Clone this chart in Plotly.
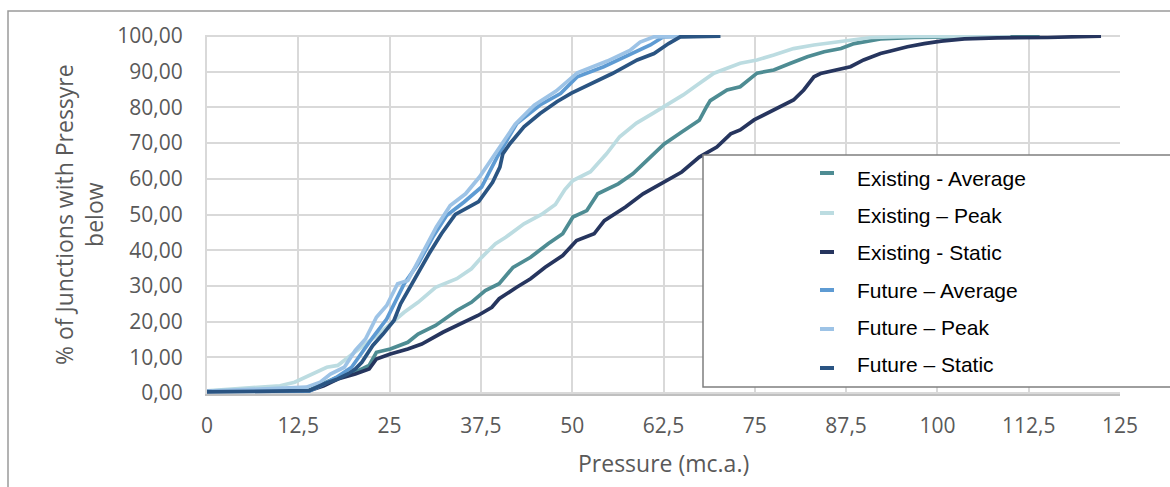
import plotly.graph_objects as go

# ---------------- data ----------------
x_tickvals = [0, 12.5, 25, 37.5, 50, 62.5, 75, 87.5, 100, 112.5, 125]
x_ticktext = ["0", "12,5", "25", "37,5", "50", "62,5", "75", "87,5", "100", "112,5", "125"]
y_tickvals = [0, 10, 20, 30, 40, 50, 60, 70, 80, 90, 100]
y_ticktext = ["0,00", "10,00", "20,00", "30,00", "40,00", "50,00",
              "60,00", "70,00", "80,00", "90,00", "100,00"]

series_names = ["Existing - Average", "Existing \u2013 Peak", "Existing - Static",
                "Future \u2013 Average", "Future \u2013 Peak", "Future \u2013 Static"]

existing_average_x = [0, 14, 15, 16.9, 18.4, 20.3, 22.2, 23.2, 25.1, 27.5, 28.9, 31.3, 34.2, 36.2,
                      38.1, 40, 41.9, 44.3, 46.7, 48.7, 50.1, 52, 53.5, 56.3, 58.3, 60.2, 62.6, 65,
                      67.4, 68.4, 68.9, 71.2, 73, 75.3, 77.6, 79.9, 82.2, 84.5, 86.8, 88.6, 92.2,
                      96.8, 101.4, 108, 114]
existing_average_y = [0.5, 0.8, 1.8, 3.5, 4.9, 5.8, 7.7, 11.4, 12.3, 14.2, 16.5, 18.9, 23.1, 25.4,
                      28.7, 30.6, 35.2, 38, 41.8, 44.6, 49.3, 51.1, 55.8, 58.6, 61.4, 65.1, 69.8, 73.1,
                      76.4, 80.2, 81.9, 84.9, 85.8, 89.6, 90.5, 92.4, 94.2, 95.6, 96.5, 97.9, 99.2,
                      99.6, 99.8, 99.9, 100]

existing_peak_x = [0, 5, 10, 12, 14, 16.4, 17.9, 19.3, 20.8, 23.2, 25.1, 27, 28.9, 31.3, 34.2, 36.2,
                   37.6, 39.5, 40.9, 43.4, 45.8, 47.7, 49, 50.1, 52.5, 54.7, 56.5, 58.8, 61.1, 63,
                   65.2, 67.1, 69.4, 73, 75.3, 77.6, 80.3, 83.1, 86.8, 90.9, 96.8, 104, 110]
existing_peak_y = [0.6, 1.2, 2, 3, 4.9, 7.2, 7.7, 10, 12.3, 16, 19.3, 22.6, 25.4, 29.6, 32, 34.8,
                   38, 41.8, 43.6, 47.4, 50, 52.8, 57, 59.5, 62, 67, 71.8, 75.6, 78.4, 80.7,
                   83.5, 86.3, 89.6, 92.4, 93.3, 94.7, 96.5, 97.5, 98.4, 99.6, 99.9, 100, 100]

existing_static_x = [0, 14, 16, 17.9, 20.3, 22.2, 23.2, 25.1, 27.5, 29.4, 32.3, 34.7, 37.1, 39, 40,
                     42.4, 44.3, 46.3, 48.7, 50.6, 53, 54.4, 57.3, 59.7, 62.1, 65, 67.4, 69.8, 71.7,
                     73, 74.9, 77.6, 80.3, 81.7, 83.1, 84, 86.3, 88.1, 89.9, 92.2, 93.6, 95.9, 98.2,
                     100.5, 103.7, 108.2, 115.1, 119.7, 122.4]
existing_static_y = [0.5, 0.65, 2, 3.9, 5.3, 6.7, 9.5, 10.9, 12.3, 13.7, 17, 19.3, 21.7, 24, 26.4,
                     29.6, 32, 35.2, 38.5, 42.7, 44.6, 48.3, 52.1, 55.8, 58.6, 61.9, 66.1, 68.9, 72.6,
                     73.7, 76.5, 79.3, 82.1, 84.9, 88.6, 89.5, 90.5, 91.4, 93.3, 95.1, 95.8, 97, 97.9,
                     98.6, 99.2, 99.5, 99.6, 99.8, 100]

future_average_x = [0, 14, 16, 17.9, 19.8, 21.2, 22.7, 24.6, 26.1, 27, 28.9, 30.9, 32.8, 35.2, 37.6,
                    39.7, 42.4, 45.6, 48.4, 50.7, 54.3, 57.9, 60.7, 62.5, 65, 69]
future_average_y = [0.4, 0.5, 2.5, 4.6, 7.2, 11.4, 15.6, 20.7, 26.8, 30.6, 36.2, 43.6, 49.7, 53.5,
                    57.7, 66, 75.5, 80.7, 83.9, 88.6, 91.4, 94.7, 97.5, 99.8, 100, 100]

future_peak_x = [0, 9.7, 13.6, 15.5, 16.9, 18.8, 20.3, 21.7, 23.2, 24.6, 26.1, 27.5, 29.4, 31.4, 33.3,
                 35.4, 37.3, 39.6, 42.2, 44.8, 47.8, 50.7, 54.8, 57.9, 59.3, 61.2, 64, 67]
future_peak_y = [0.5, 1.1, 1.6, 3, 5.3, 7.2, 11.9, 15.1, 21.2, 24.5, 30.6, 31.5, 39, 46.5, 52.5,
                 55.8, 60.5, 67.5, 75.3, 80.6, 84.6, 89.7, 93, 96, 98.3, 99.8, 100, 100]

future_static_x = [0, 14, 16, 17.9, 19.3, 20.3, 21.2, 22.7, 24.1, 25.6, 26.5, 27.5, 28.9, 30.4, 32.1,
                   34, 37.2, 39.1, 40.1, 40.5, 41.5, 43.4, 45.6, 47.9, 49.9, 52.7, 55.5, 58.9, 61.2,
                   63.2, 64.8, 70.3]
future_static_y = [0.3, 0.65, 2.5, 3.9, 5.3, 6.7, 8.6, 13.3, 16.5, 20.3, 25, 28.7, 33.4, 39, 44.6,
                   50, 53.6, 59, 63.3, 67, 69.9, 74.6, 78.3, 81.6, 84, 86.7, 89.5, 93.3, 95.1,
                   97.9, 99.8, 100]

series_x = [existing_average_x, existing_peak_x, existing_static_x,
            future_average_x, future_peak_x, future_static_x]
series_y = [existing_average_y, existing_peak_y, existing_static_y,
            future_average_y, future_peak_y, future_static_y]
series_colors = ["#4E8C93", "#BCDCE1", "#26355E", "#5E9BD3", "#9DC3E6", "#2A5482"]

# ---------------- layout helpers (pixel -> paper) ----------------
W, H = 1170, 487
PL, PR, PT, PB = 207, 1120, 35, 394  # plot area in pixels


def px2x(px):
    return (px - PL) / (PR - PL)


def py2y(py):
    return (PB - py) / (PB - PT)


fig = go.Figure()
for name, xs, ys, col in zip(series_names, series_x, series_y, series_colors):
    fig.add_trace(go.Scatter(x=xs, y=ys, name=name, mode="lines",
                             line=dict(color=col, width=3.7), showlegend=False))

axis_font = dict(family="Open Sans", size=21, color="#595959")

fig.update_layout(
    width=W, height=H,
    margin=dict(l=PL, r=W - PR, t=PT, b=H - PB, autoexpand=False),
    paper_bgcolor="white", plot_bgcolor="white",
    xaxis=dict(range=[0, 125], tickvals=x_tickvals, ticktext=x_ticktext,
               showgrid=True, gridcolor="#D9D9D9", gridwidth=2,
               showline=True, linecolor="#BFBFBF", linewidth=2,
               zeroline=False, ticks="", tickfont=axis_font, ticklabelstandoff=12),
    yaxis=dict(range=[-0.3, 100.3], tickvals=y_tickvals, ticktext=y_ticktext,
               showgrid=True, gridcolor="#D9D9D9", gridwidth=2,
               showline=True, linecolor="#D9D9D9", linewidth=2,
               zeroline=False, ticks="", tickfont=axis_font, ticklabelstandoff=18),
    font=dict(family="Open Sans"),
)

# axis titles
fig.add_annotation(text="% of Junctions with Pressyre<br>below", textangle=-90,
                   xref="paper", yref="paper", x=px2x(78.5), y=0.5,
                   xanchor="center", yanchor="middle", showarrow=False,
                   font=dict(family="Open Sans", size=23, color="#595959"))
fig.add_annotation(text="Pressure (mc.a.)", xref="paper", yref="paper",
                   x=px2x(663.5), y=py2y(463), xanchor="center", yanchor="middle",
                   showarrow=False, font=dict(family="Open Sans", size=23, color="#595959"))

# outer chart border
fig.add_shape(type="rect", xref="paper", yref="paper", layer="above",
              x0=px2x(8), x1=px2x(1185), y0=py2y(500), y1=py2y(11),
              line=dict(color="#9A9A9A", width=1.5), fillcolor="rgba(0,0,0,0)")

# legend box
fig.add_shape(type="rect", xref="paper", yref="paper", layer="above",
              x0=px2x(703), x1=px2x(1185), y0=py2y(387), y1=py2y(155),
              line=dict(color="#7F7F7F", width=1.5), fillcolor="white")

swatch_py = [173, 213, 252, 290, 329, 368]
text_py = [178, 215, 252, 290, 327, 364]
for name, col, sy, ty in zip(series_names, series_colors, swatch_py, text_py):
    fig.add_shape(type="line", xref="paper", yref="paper", layer="above",
                  x0=px2x(820), x1=px2x(834), y0=py2y(sy), y1=py2y(sy),
                  line=dict(color=col, width=4))
    fig.add_annotation(text=name, xref="paper", yref="paper", x=px2x(855), y=py2y(ty),
                       xanchor="left", yanchor="middle", showarrow=False,
                       font=dict(family="Liberation Sans", size=21, color="#000000"))

fig.write_html("out.html")
